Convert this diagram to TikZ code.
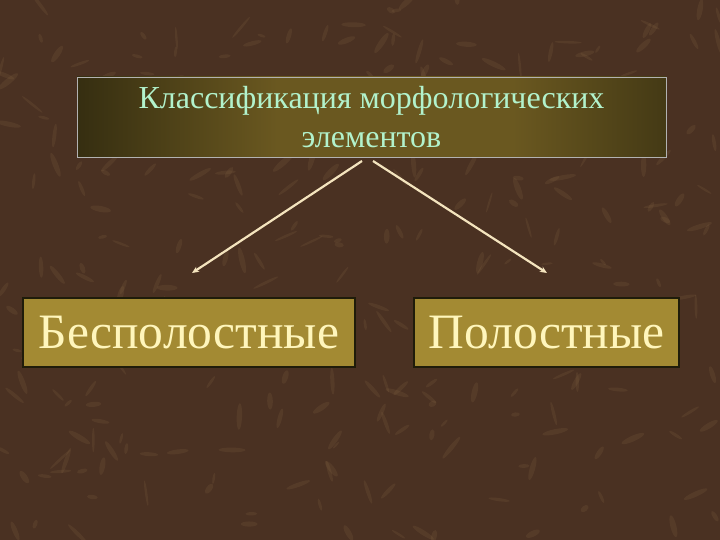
\documentclass[tikz,border=0pt]{standalone}
\usepackage{fontspec}
\setmainfont{Liberation Serif}
\usetikzlibrary{positioning,arrows.meta}
\definecolor{marble}{HTML}{4A3122}
\definecolor{vein}{HTML}{8A6A48}
\definecolor{darkolive}{HTML}{1F1C0A}
\definecolor{goldolive}{HTML}{6A5820}
\definecolor{boxgold}{HTML}{A38A33}
\definecolor{mint}{HTML}{B2F2CC}
\definecolor{cream}{HTML}{FFF6BC}
\definecolor{arrowcream}{HTML}{F4E4BE}
\pgfdeclarehorizontalshading{titleshade}{100bp}{
  color(0bp)=(darkolive); color(25bp)=(darkolive!70!goldolive);
  color(42bp)=(goldolive); color(62bp)=(goldolive);
  color(80bp)=(darkolive!70!goldolive); color(100bp)=(darkolive)}
\tikzset{
  titlebox/.style={draw=gray!60, line width=0.8pt, minimum width=589pt, minimum height=80pt,
    shading=titleshade, text=mint, align=center, font=\fontsize{32}{39}\selectfont},
  kindbox/.style={draw=darkolive, line width=1.5pt, fill=boxgold, minimum height=69pt,
    text=cream, font=\fontsize{49.5}{52}\selectfont, inner sep=0pt},
  link/.style={draw=arrowcream, line width=2.2pt, -{Stealth[length=7pt,width=6pt]}}
}
\begin{document}
\begin{tikzpicture}[x=1pt,y=-1pt]
\useasboundingbox (0,0) rectangle (720,540);
\clip (0,0) rectangle (720,540);

% Background
\fill[marble] (0,0) rectangle (720,540);
\pgfmathsetseed{7}
\foreach \i in {1,...,300}{
  \pgfmathsetmacro{\vx}{rnd*720}
  \pgfmathsetmacro{\vy}{rnd*540}
  \pgfmathsetmacro{\va}{rand*90}
  \fill[vein, opacity=0.18, rotate around={\va:(\vx,\vy)}]
    (\vx,\vy) ellipse ({4+rnd*10} and {1+rnd*2});
}

% Boxes
\node[titlebox] (title) at (371.5,117) {Классификация морфологических\\элементов};
\node[kindbox, minimum width=332pt] (solid) at (189,332.5) {Бесполостные};
\node[kindbox, minimum width=265pt] (hollow) at (546.5,332.5) {Полостные};

% Arrow ends
\coordinate (lstart) at (362,161);
\coordinate (rstart) at (373,161);
\coordinate (lend) at (192,273);
\coordinate (rend) at (547,273);

% Arrows
\draw[link] (lstart) -- (lend);
\draw[link] (rstart) -- (rend);

\end{tikzpicture}
\end{document}
